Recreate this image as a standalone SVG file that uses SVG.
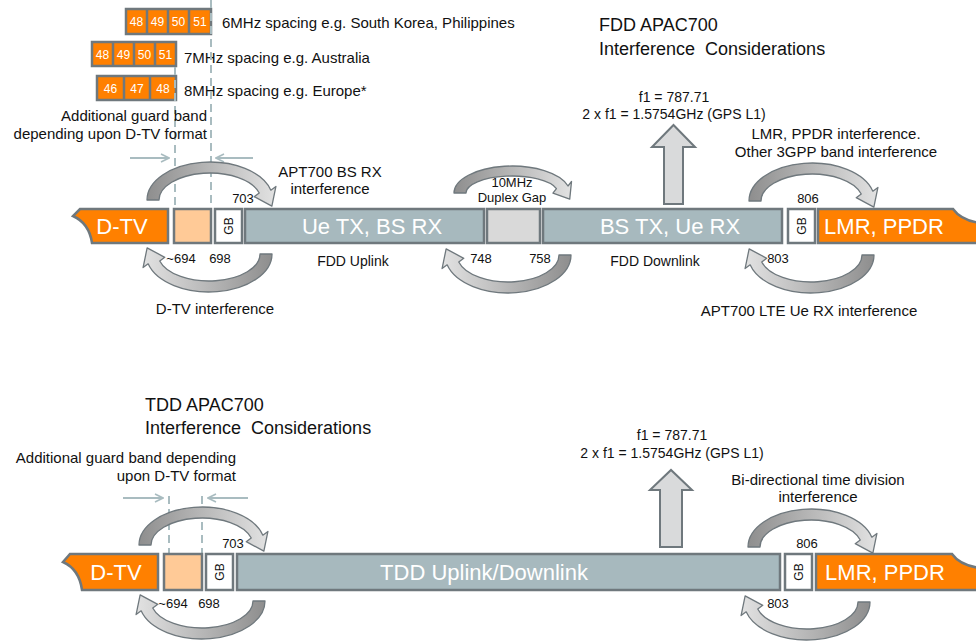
<svg xmlns="http://www.w3.org/2000/svg" xmlns:xlink="http://www.w3.org/1999/xlink" width="976" height="641" viewBox="0 0 976 641">
<defs>
<linearGradient id="arcGrad" x1="0" y1="0" x2="1" y2="0">
<stop offset="0" stop-color="#8e8e8e"/>
<stop offset="1" stop-color="#e2e2e2"/>
</linearGradient>
<path id="arcA" d="M -63 0 A 63 38 0 0 1 60.85 -9.83 L 65.92 -13.51 L 61.86 6.07 L 44.20 -3.31 L 49.26 -6.99 A 51 27 0 0 0 -51 0 Z" fill="url(#arcGrad)" stroke="#6f787d" stroke-width="1.3" stroke-linejoin="round"/>
<path id="arcB" d="M -58 0 A 58 27 0 0 1 56.02 -6.99 L 59.53 -11.58 L 57.72 6.13 L 40.94 0.19 L 44.43 -4.40 A 46 17 0 0 0 -46 0 Z" fill="url(#arcGrad)" stroke="#6f787d" stroke-width="1.3" stroke-linejoin="round"/>
<marker id="openHead" viewBox="0 0 10 10" refX="9" refY="5" markerWidth="10" markerHeight="10" markerUnits="userSpaceOnUse" orient="auto">
<path d="M 1 1 L 9 5 L 1 9" fill="none" stroke="#a9bcc0" stroke-width="1.6"/>
</marker>
</defs>
<style>
text{font-family:"Liberation Sans",Arial,sans-serif;fill:#111}
.t15{font-size:15px}
.t14{font-size:14px}
.t13{font-size:13px}
.title{font-size:18px}
.band{font-size:22px;fill:#fff}
.cell{font-size:12px;fill:#fff;text-anchor:middle}
.gbt{font-size:12px;text-anchor:middle}
.mid{text-anchor:middle}
.end{text-anchor:end}
.bd{stroke:#6f787d;stroke-width:2.5}
.or{fill:#ff8000}
.lor{fill:#ffca97}
.gb{fill:#fff}
.blue{fill:#a7b9be}
.gap{fill:#d9d9d9}
.dash{stroke:#a9bcc0;stroke-width:2;stroke-dasharray:8 5;fill:none}
.guide{stroke:#a9bcc0;stroke-width:2;fill:none}
.up{fill:#d9dadb;stroke:#6f787d;stroke-width:2;stroke-linejoin:miter}
</style>

<!-- ============ FDD section ============ -->
<g id="channels">
<g id="row6">
<rect x="126" y="9" width="85" height="25" class="or bd"/>
<path d="M147 9V34M168 9V34M189 9V34" class="bd" fill="none"/>
<text x="136.5" y="26" class="cell">48</text><text x="157.5" y="26" class="cell">49</text><text x="178.5" y="26" class="cell">50</text><text x="200" y="26" class="cell">51</text>
</g>
<g id="row7">
<rect x="92" y="42" width="84" height="24" class="or bd"/>
<path d="M113 42V66M134 42V66M155 42V66" class="bd" fill="none"/>
<text x="102.5" y="58.5" class="cell">48</text><text x="123.5" y="58.5" class="cell">49</text><text x="144.5" y="58.5" class="cell">50</text><text x="165.5" y="58.5" class="cell">51</text>
</g>
<g id="row8">
<rect x="97" y="76" width="79" height="24" class="or bd"/>
<path d="M124 76V100M150 76V100" class="bd" fill="none"/>
<text x="110.5" y="92.5" class="cell">46</text><text x="137" y="92.5" class="cell">47</text><text x="163" y="92.5" class="cell">48</text>
</g>
<text x="222" y="28" class="t15">6MHz spacing e.g. South Korea, Philippines</text>
<text x="184" y="63" class="t15">7MHz spacing e.g. Australia</text>
<text x="184" y="96" class="t15">8MHz spacing e.g. Europe*</text>
</g>

<g id="fdd-title">
<text x="599" y="31" class="title">FDD APAC700</text>
<text x="599" y="55" class="title" xml:space="preserve">Interference  Considerations</text>
</g>

<g id="fdd-guard">
<line x1="175" y1="67" x2="175" y2="208" class="dash"/>
<line x1="211" y1="0" x2="211" y2="208" class="dash"/>
<line x1="130" y1="158" x2="169" y2="158" class="guide" marker-end="url(#openHead)"/>
<line x1="253" y1="158" x2="216" y2="158" class="guide" marker-end="url(#openHead)"/>
<text x="207" y="121" class="t15 end">Additional guard band</text>
<text x="207" y="139" class="t15 end">depending upon D-TV format</text>
</g>

<g id="fdd-dtv">
<path d="M168 209 L80 209 L73 216 C82 220 90 229 92 243 L168 243 Z" class="or bd"/>
<text x="122" y="234" class="band mid">D-TV</text>
</g>
<g id="fdd-extra-guard"><rect x="174" y="209" width="37" height="34" class="lor bd"/></g>
<g id="fdd-gb1">
<rect x="215" y="209" width="27" height="34" class="gb bd"/>
<text transform="translate(232.5 226) rotate(-90)" class="gbt">GB</text>
</g>
<g id="fdd-uplink">
<rect x="245" y="209" width="239" height="34" class="blue bd"/>
<text x="372" y="234" class="band mid">Ue TX, BS RX</text>
</g>
<g id="fdd-gap"><rect x="487" y="209" width="53" height="34" class="gap bd"/></g>
<g id="fdd-downlink">
<rect x="543" y="209" width="239" height="34" class="blue bd"/>
<text x="670" y="234" class="band mid">BS TX, Ue RX</text>
</g>
<g id="fdd-gb2">
<rect x="788" y="209" width="27" height="34" class="gb bd"/>
<text transform="translate(805.5 226) rotate(-90)" class="gbt">GB</text>
</g>
<g id="fdd-lmr">
<path d="M818 209 L953 209 C958 216 966 221 980 223 L980 243 L818 243 Z" class="or bd"/>
<text x="884" y="234" class="band mid">LMR, PPDR</text>
</g>

<g id="fdd-connectors">
<path d="M664 204 L664 147 L652 147 L673.5 125 L695 147 L683 147 L683 204 Z" class="up"/>
<use xlink:href="#arcA" transform="translate(210 200)"/>
<use xlink:href="#arcA" transform="translate(209 254) rotate(180)"/>
<use xlink:href="#arcB" transform="translate(512 193)"/>
<use xlink:href="#arcA" transform="translate(508 255) rotate(180)"/>
<use xlink:href="#arcA" transform="translate(812 201)"/>
<use xlink:href="#arcA" transform="translate(811 255) rotate(180)"/>
</g>

<g id="fdd-labels">
<text x="243" y="203" class="t13 mid">703</text>
<text x="181" y="263" class="t13 mid">~694</text>
<text x="220" y="263" class="t13 mid">698</text>
<text x="481" y="263" class="t13 mid">748</text>
<text x="540" y="263" class="t13 mid">758</text>
<text x="808" y="203" class="t13 mid">806</text>
<text x="778" y="263" class="t13 mid">803</text>
<text x="512" y="187" class="t13 mid">10MHz</text>
<text x="512" y="202" class="t13 mid">Duplex Gap</text>
<text x="353" y="266" class="t14 mid">FDD Uplink</text>
<text x="655" y="266" class="t14 mid">FDD Downlink</text>
<text x="330" y="177" class="t15 mid">APT700 BS RX</text>
<text x="330" y="194" class="t15 mid">interference</text>
<text x="215" y="314" class="t15 mid">D-TV interference</text>
<text x="809" y="316" class="t15 mid">APT700 LTE Ue RX interference</text>
<text x="836" y="139" class="t15 mid">LMR, PPDR interference.</text>
<text x="836" y="157" class="t15 mid">Other 3GPP band interference</text>
<text x="674" y="102" class="t14 mid">f1 = 787.71</text>
<text x="674" y="119" class="t14 mid">2 x f1 = 1.5754GHz (GPS L1)</text>
</g>

<!-- ============ TDD section ============ -->
<g id="tdd-title">
<text x="145" y="411" class="title">TDD APAC700</text>
<text x="145" y="434" class="title" xml:space="preserve">Interference  Considerations</text>
</g>

<g id="tdd-guard">
<line x1="169" y1="496" x2="169" y2="553" class="dash"/>
<line x1="202" y1="496" x2="202" y2="553" class="dash"/>
<line x1="123" y1="498" x2="163" y2="498" class="guide" marker-end="url(#openHead)"/>
<line x1="248" y1="498" x2="208" y2="498" class="guide" marker-end="url(#openHead)"/>
<text x="236" y="463" class="t15 end">Additional guard band depending</text>
<text x="236" y="481" class="t15 end">upon D-TV format</text>
</g>

<g id="tdd-dtv">
<path d="M158 554 L70 554 L63 562 C72 566 80 575 82 590 L158 590 Z" class="or bd"/>
<text x="116" y="580" class="band mid">D-TV</text>
</g>
<g id="tdd-extra-guard"><rect x="164" y="554" width="38" height="36" class="lor bd"/></g>
<g id="tdd-gb1">
<rect x="206" y="554" width="27" height="36" class="gb bd"/>
<text transform="translate(223.5 572) rotate(-90)" class="gbt">GB</text>
</g>
<g id="tdd-band">
<rect x="237" y="554" width="543" height="36" class="blue bd"/>
<text x="484" y="580" class="band mid">TDD Uplink/Downlink</text>
</g>
<g id="tdd-gb2">
<rect x="785" y="554" width="27" height="36" class="gb bd"/>
<text transform="translate(802.5 572) rotate(-90)" class="gbt">GB</text>
</g>
<g id="tdd-lmr">
<path d="M816 554 L952 554 C957 561 965 566 980 568 L980 590 L816 590 Z" class="or bd"/>
<text x="885" y="580" class="band mid">LMR, PPDR</text>
</g>

<g id="tdd-connectors">
<path d="M660 547 L660 490 L650 490 L671 470 L692 490 L682 490 L682 547 Z" class="up"/>
<use xlink:href="#arcA" transform="translate(202 545)"/>
<use xlink:href="#arcA" transform="translate(202 601) rotate(180)"/>
<use xlink:href="#arcA" transform="translate(811 547)"/>
<use xlink:href="#arcA" transform="translate(807 602) rotate(180)"/>
</g>

<g id="tdd-labels">
<text x="233" y="548" class="t13 mid">703</text>
<text x="173" y="608" class="t13 mid">~694</text>
<text x="209" y="608" class="t13 mid">698</text>
<text x="807" y="548" class="t13 mid">806</text>
<text x="778" y="608" class="t13 mid">803</text>
<text x="672" y="440" class="t14 mid">f1 = 787.71</text>
<text x="672" y="458" class="t14 mid">2 x f1 = 1.5754GHz (GPS L1)</text>
<text x="818" y="485" class="t15 mid">Bi-directional time division</text>
<text x="818" y="502" class="t15 mid">interference</text>
</g>
</svg>
